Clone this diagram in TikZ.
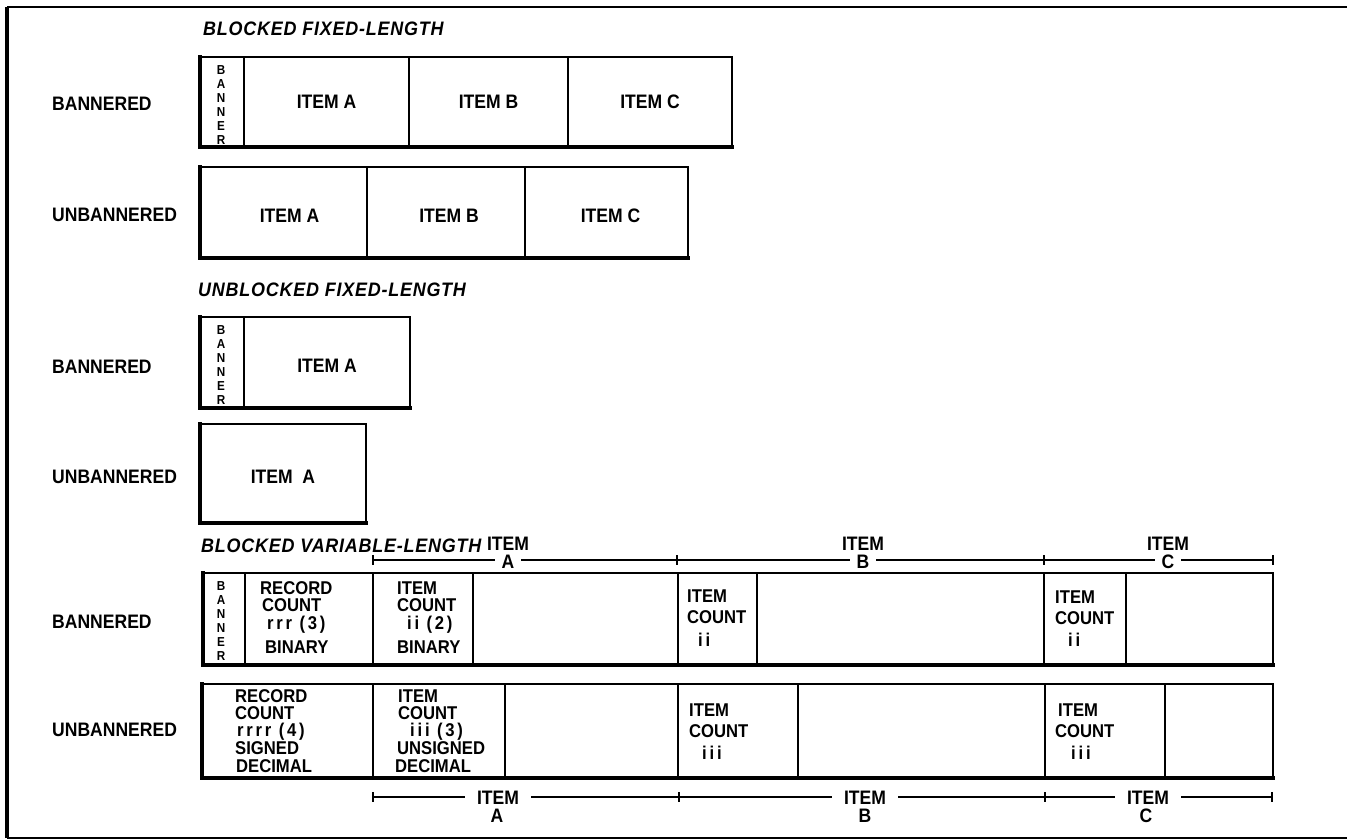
\documentclass[tikz,border=0pt]{standalone}
\usepackage{fontspec}
\setmainfont{Liberation Sans}[FakeStretch=0.9]
\newfontfamily\spacedlc{Liberation Sans}[LetterSpace=15,FakeStretch=0.9]
\newfontfamily\titlefont{Liberation Sans}[LetterSpace=4,FakeStretch=0.92]
\newcommand\fslab{\fontsize{19.5}{20}\selectfont\bfseries}
\newcommand\fscell{\fontsize{18.5}{19}\selectfont\bfseries}
\newcommand\fsttl{\titlefont\fontsize{19.5}{20}\selectfont\bfseries\itshape}
\newcommand\fsban{\fontsize{13}{14}\selectfont\bfseries}
\newcommand\mkcell[5]{%
  \pgfmathsetmacro\mycw{#4-#2}%
  \pgfmathsetmacro\mych{#5-#3}%
  \node[cellbox, minimum width=\mycw pt, minimum height=\mych pt] (#1) at ({(#2+#4)/2},{(#3+#5)/2}) {};}
\begin{document}
\begin{tikzpicture}[x=1pt,y=-1pt,
  cellbox/.style={draw, line width=1.3pt, inner sep=0pt, outer sep=0pt},
  heavy/.style={line width=3.6pt, line cap=rect},
  frame/.style={line width=2pt},
  txt/.style={inner sep=0pt, text height=14pt, text depth=0pt, font=\fslab},
  lt/.style={txt, anchor=west},
  ct/.style={inner sep=0pt, text height=13.2pt, text depth=0pt, font=\fscell, anchor=west},
  ttl/.style={inner sep=0pt, anchor=west, font=\fsttl},
  bantxt/.style={inner sep=0pt, align=center, anchor=north, font=\fsban},
  dimline/.style={line width=1.2pt},
  dimlab/.style={txt, fill=white, inner xsep=7pt},
  dimlabw/.style={txt, fill=white, inner xsep=12pt}
]
\useasboundingbox (0,0) rectangle (1347,840);

% frame
\coordinate (fTL) at (7,7);
\coordinate (fTR) at (1347,7);
\coordinate (fBL) at (7,838);
\coordinate (fBR) at (1347,838);
\draw[frame] (fTL) -- (fTR);
\draw[frame] (fBL) -- (fBR);
\draw[line width=4.5pt] (fTL) -- (fBL);

% titles
\node[ttl] (t1) at (203,29) {BLOCKED FIXED-LENGTH};
\node[ttl] (t2) at (198,290) {UNBLOCKED FIXED-LENGTH};
\node[ttl] (t3) at (201,546) {BLOCKED VARIABLE-LENGTH};

% row labels
\node[lt] (l1) at (52,104) {BANNERED};
\node[lt] (l2) at (52,214) {UNBANNERED};
\node[lt] (l3) at (52,366) {BANNERED};
\node[lt] (l4) at (52,476) {UNBANNERED};
\node[lt] (l5) at (52,621) {BANNERED};
\node[lt] (l6) at (52,729) {UNBANNERED};

% ---- blocked fixed-length, bannered
\mkcell{r1ban}{200}{57}{244}{147}
\mkcell{r1a}{244}{57}{409}{147}
\mkcell{r1b}{409}{57}{568}{147}
\mkcell{r1c}{568}{57}{732}{147}
\draw[heavy] (r1ban.north west) -- (r1ban.south west) -- (r1c.south east);
\node[bantxt] (r1bt) at ([xshift=-1pt,yshift=-8pt]r1ban.north) {B\\A\\N\\N\\E\\R};
\node[txt] (r1at) at (r1a.center) {ITEM A};
\node[txt] (r1bt2) at (r1b.center) {ITEM B};
\node[txt] (r1ct) at (r1c.center) {ITEM C};

% ---- blocked fixed-length, unbannered
\mkcell{r2a}{200}{167}{367}{258}
\mkcell{r2b}{367}{167}{525}{258}
\mkcell{r2c}{525}{167}{688}{258}
\draw[heavy] (r2a.north west) -- (r2a.south west) -- (r2c.south east);
\node[txt] (r2at) at ([xshift=6pt,yshift=-3pt]r2a.center) {ITEM A};
\node[txt] (r2bt) at ([xshift=3pt,yshift=-3pt]r2b.center) {ITEM B};
\node[txt] (r2ct) at ([xshift=4pt,yshift=-3pt]r2c.center) {ITEM C};

% ---- unblocked fixed-length, bannered
\mkcell{u1ban}{200}{317}{244}{408}
\mkcell{u1a}{244}{317}{410}{408}
\draw[heavy] (u1ban.north west) -- (u1ban.south west) -- (u1a.south east);
\node[bantxt] (u1bt) at ([xshift=-1pt,yshift=-8pt]u1ban.north) {B\\A\\N\\N\\E\\R};
\node[txt] (u1at) at ([yshift=-3pt]u1a.center) {ITEM A};

% ---- unblocked fixed-length, unbannered
\mkcell{u2a}{200}{424}{366}{523}
\draw[heavy] (u2a.north west) -- (u2a.south west) -- (u2a.south east);
\node[txt] (u2at) at ([yshift=-3pt]u2a.center) {ITEM\ \ A};

% ---- blocked variable-length, bannered
\mkcell{v1ban}{203}{573}{245}{665}
\mkcell{v1rec}{245}{573}{373}{665}
\mkcell{v1ica}{373}{573}{473}{665}
\mkcell{v1da}{473}{573}{678}{665}
\mkcell{v1icb}{678}{573}{757}{665}
\mkcell{v1db}{757}{573}{1044}{665}
\mkcell{v1icc}{1044}{573}{1126}{665}
\mkcell{v1dc}{1126}{573}{1273}{665}
\draw[heavy] (v1ban.north west) -- (v1ban.south west) -- (v1dc.south east);
\node[bantxt] (v1bt) at ([xshift=-3pt,yshift=-8pt]v1ban.north) {B\\A\\N\\N\\E\\R};
\node[ct] (v1r1) at (260,588) {RECORD};
\node[ct] (v1r2) at (262,605) {COUNT};
\node[ct] (v1r3) at (267,623) {\spacedlc rrr (3)};
\node[ct] (v1r4) at (265,647) {BINARY};
\node[ct] (v1i1) at (397,588) {ITEM};
\node[ct] (v1i2) at (397,605) {COUNT};
\node[ct] (v1i3) at (407,623) {\spacedlc ii (2)};
\node[ct] (v1i4) at (397,647) {BINARY};
\node[ct] (v1b1) at (687,596) {ITEM};
\node[ct] (v1b2) at (687,617) {COUNT};
\node[ct] (v1b3) at (698,640) {\spacedlc ii};
\node[ct] (v1c1) at (1055,597) {ITEM};
\node[ct] (v1c2) at (1055,618) {COUNT};
\node[ct] (v1c3) at (1068,640) {\spacedlc ii};

% ---- blocked variable-length, unbannered
\mkcell{v2rec}{202}{684}{373}{778}
\mkcell{v2ica}{373}{684}{505}{778}
\mkcell{v2da}{505}{684}{678}{778}
\mkcell{v2icb}{678}{684}{798}{778}
\mkcell{v2db}{798}{684}{1045}{778}
\mkcell{v2icc}{1045}{684}{1165}{778}
\mkcell{v2dc}{1165}{684}{1273}{778}
\draw[heavy] (v2rec.north west) -- (v2rec.south west) -- (v2dc.south east);
\node[ct] (v2r1) at (235,696) {RECORD};
\node[ct] (v2r2) at (235,713) {COUNT};
\node[ct] (v2r3) at (237,730) {\spacedlc rrrr (4)};
\node[ct] (v2r4) at (235,748) {SIGNED};
\node[ct] (v2r5) at (236,766) {DECIMAL};
\node[ct] (v2i1) at (398,696) {ITEM};
\node[ct] (v2i2) at (398,713) {COUNT};
\node[ct] (v2i3) at (410,730) {\spacedlc iii (3)};
\node[ct] (v2i4) at (397,748) {UNSIGNED};
\node[ct] (v2i5) at (395,766) {DECIMAL};
\node[ct] (v2b1) at (689,710) {ITEM};
\node[ct] (v2b2) at (689,731) {COUNT};
\node[ct] (v2b3) at (702,753) {\spacedlc iii};
\node[ct] (v2c1) at (1058,710) {ITEM};
\node[ct] (v2c2) at (1055,731) {COUNT};
\node[ct] (v2c3) at (1071,753) {\spacedlc iii};

% ---- top dimension line
\coordinate (tA) at (373,560);
\coordinate (tB) at (677,560);
\coordinate (tC) at (1044,560);
\coordinate (tE) at (1273,560);
\draw[dimline] (tA) -- (tE);
\foreach \c in {tA,tB,tC,tE} \draw[dimline] ([yshift=5pt]\c) -- ([yshift=-5pt]\c);
\node[dimlab] (tAl) at (508,561) {A};
\node[txt] (tAi) at (508,543) {ITEM};
\node[dimlab] (tBl) at (863,561) {B};
\node[txt] (tBi) at (863,543) {ITEM};
\node[dimlab] (tCl) at (1168,561) {C};
\node[txt] (tCi) at (1168,543) {ITEM};

% ---- bottom dimension line
\coordinate (bA) at (373,797);
\coordinate (bB) at (679,797);
\coordinate (bC) at (1045,797);
\coordinate (bE) at (1272,797);
\draw[dimline] (bA) -- (bE);
\foreach \c in {bA,bB,bC,bE} \draw[dimline] ([yshift=5pt]\c) -- ([yshift=-5pt]\c);
\node[dimlabw] (bAi) at (498,797) {ITEM};
\node[txt] (bAl) at (497,815) {A};
\node[dimlabw] (bBi) at (865,797) {ITEM};
\node[txt] (bBl) at (865,815) {B};
\node[dimlabw] (bCi) at (1148,797) {ITEM};
\node[txt] (bCl) at (1146,815) {C};
\end{tikzpicture}
\end{document}
